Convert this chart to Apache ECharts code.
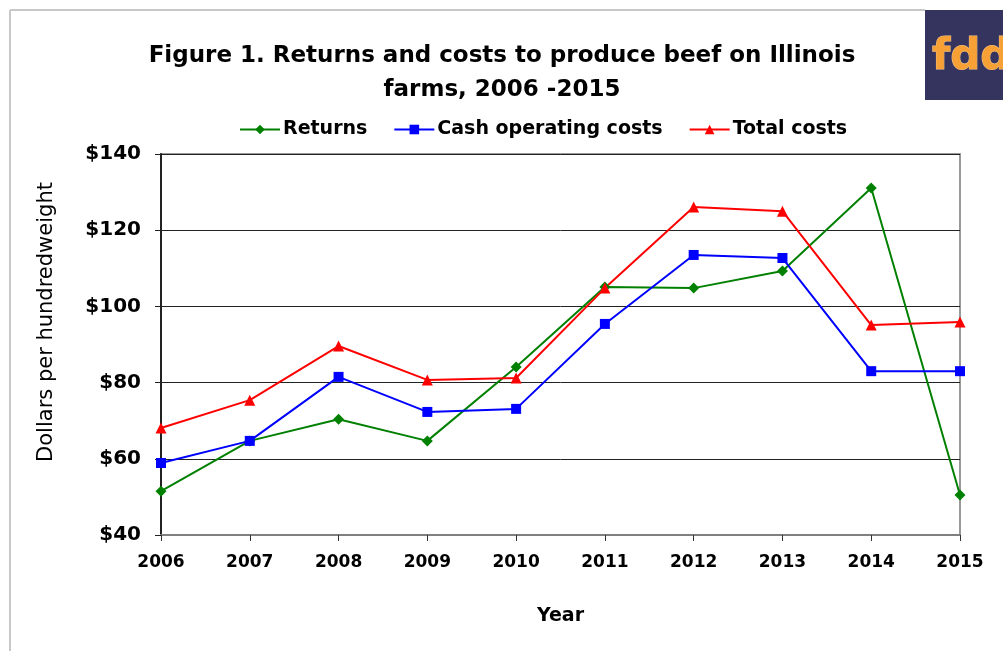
<!DOCTYPE html>
<html><head><meta charset="utf-8">
<script src="https://cdn.jsdelivr.net/npm/echarts@6/dist/echarts.min.js"></script>
<style>html,body{margin:0;padding:0;background:#fff}#c{width:1003px;height:651px}</style>
</head><body><div id="c"></div>
<script>
const years = ['2006','2007','2008','2009','2010','2011','2012','2013','2014','2015'];
const returns = [51.5, 64.7, 70.4, 64.7, 84.1, 105.1, 104.8, 109.3, 131.1, 50.5];
const cashCosts = [58.9, 64.7, 81.5, 72.3, 73.1, 95.4, 113.5, 112.7, 83.0, 83.0];
const totalCosts = [68.1, 75.4, 89.6, 80.7, 81.2, 104.8, 126.1, 125.0, 95.1, 95.9];
const yTicks = [40, 60, 80, 100, 120, 140];
const yAxisTitle = 'Dollars per hundredweight';

const chart = echarts.init(document.getElementById('c'), null, {renderer:'canvas'});
const font = '"DejaVu Sans", sans-serif';
function ser(name, data, color, symbol, size){
  return {name, type:'line', data, symbol, symbolSize:size, showSymbol:true,
    lineStyle:{color, width:2}, itemStyle:{color}, z: 3};
}
chart.setOption({
  animation:false,
  textStyle:{fontFamily:font},
  title:{
    text:'Figure 1. Returns and costs to produce beef on Illinois\nfarms, 2006 -2015',
    left:497, top:34, textAlign:'center',
    textStyle:{fontFamily:font, fontWeight:'bold', fontSize:23, lineHeight:34, color:'#000'}
  },
  legend:{
    top:115, left:234, itemGap:26, itemWidth:40, itemHeight:12,
    textStyle:{fontFamily:font, fontWeight:'bold', fontSize:19, color:'#000', padding:[0,0,0,-2]},
    data:['Returns','Cash operating costs','Total costs']
  },
  grid:{left:161, right:43, top:154, bottom:116, show:true, borderColor:'#999', borderWidth:2, containLabel:false},
  xAxis:{
    type:'category', data:years, boundaryGap:false,
    name:'Year', nameLocation:'middle', nameGap:72,
    nameTextStyle:{fontFamily:font, fontWeight:'bold', fontSize:19, color:'#000'},
    axisLine:{lineStyle:{color:'#808080', width:2}},
    axisTick:{show:true, length:6, lineStyle:{color:'#333'}},
    axisLabel:{fontFamily:font, fontWeight:'bold', fontSize:17, color:'#000', margin:19},
    splitLine:{show:false}
  },
  yAxis:{
    type:'value', min:yTicks[0], max:yTicks[yTicks.length-1], interval:20,
    axisLine:{show:true, lineStyle:{color:'#222', width:2}},
    axisTick:{show:true, length:6, lineStyle:{color:'#222'}},
    axisLabel:{fontFamily:font, fontWeight:'bold', fontSize:20, color:'#000', margin:20, formatter:v=>'$'+v},
    splitLine:{show:true, lineStyle:{color:'#222', width:1}}
  },
  series:[
    ser('Returns', returns, '#008000', 'diamond', 11),
    ser('Cash operating costs', cashCosts, '#0000ff', 'rect', 10),
    ser('Total costs', totalCosts, '#ff0000', 'triangle', 11)
  ],
  graphic:[
    {type:'line', shape:{x1:10, y1:10, x2:925, y2:10}, style:{stroke:'#c8c8c8', lineWidth:2}},
    {type:'line', shape:{x1:10, y1:10, x2:10, y2:651}, style:{stroke:'#c8c8c8', lineWidth:2}},
    {type:'rect', shape:{x:925, y:10, width:78, height:90}, style:{fill:'#35345f'}},
    {type:'text', style:{x:932, y:58, text:'fdd', fill:'#f7a035', stroke:'#f3c68a', lineWidth:1,
      font:'bold 42px "DejaVu Sans", sans-serif', textVerticalAlign:'middle'}},
    {type:'text', x:47, y:322, rotation:Math.PI/2,
      style:{text:yAxisTitle, fill:'#000', font:'21px "DejaVu Sans", sans-serif', textAlign:'center', textVerticalAlign:'middle'}}
  ]
});
</script></body></html>
